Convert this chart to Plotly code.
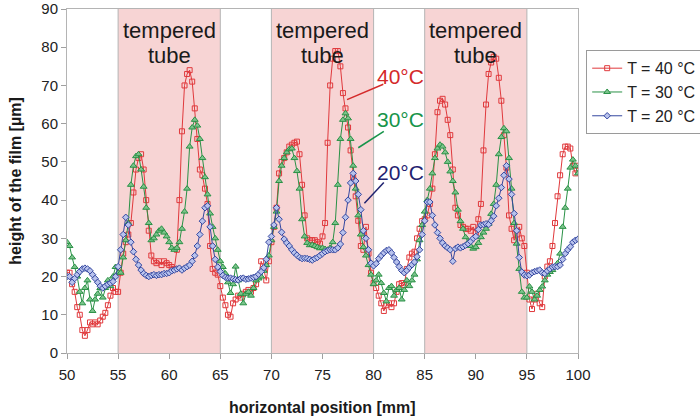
import plotly.graph_objects as go

# sampled horizontal positions [mm] (0.25 mm step, 50 .. 100)
x_start = 50.0
x_step = 0.25

film_40 = [
    21, 21, 18, 16, 12, 10, 6, 4.5, 6, 8, 7.5, 8, 7.5, 8.5, 9.5, 10.5, 12.5, 15, 17, 16,
    16, 21, 26, 29, 31, 34, 42, 48, 51, 52, 48, 40, 32, 25.5, 24, 23.5, 24, 23, 24, 23.5,
    23, 22.5, 22, 27, 40, 58, 70, 73, 74, 71, 64, 56, 48, 46.5, 43, 39, 28, 22, 21, 20.5,
    17.5, 14.5, 12.5, 10, 9.5, 13, 14, 15, 14.5, 15.5, 16, 16.5, 16, 17, 18, 20, 24, 22, 19, 24,
    29, 33, 38, 47, 50, 51, 52.5, 54, 54.5, 55, 55.3, 52, 44, 36, 30, 29.5, 29.5, 29.5, 29, 28.6,
    30.5, 34, 55, 70, 77, 79, 79, 75, 68, 64, 59, 53, 46, 41, 34.6, 28, 27, 33, 26, 21,
    18.3, 17, 15, 13, 11, 12.5, 13, 12, 13, 16, 18, 18.3, 17.8, 22, 25, 26, 26.5, 30, 32.5, 34.5,
    35, 36, 39, 43, 52, 63, 66, 66.5, 65, 61, 57, 48, 38, 36, 33.5, 33, 32.5, 32.5, 32, 33,
    31.5, 35, 39, 53, 65, 73, 76, 77.5, 77, 72, 66, 57, 48.5, 36, 32.5, 29.5, 31, 33, 30, 28,
    21, 14, 11.5, 14, 15.5, 13, 12, 20, 22.6, 24, 28, 34, 41, 46.5, 52, 54, 54, 53.5, 49, 47,
    49,
]

film_30 = [
    29, 28, 25, 22.5, 20, 16, 13, 17, 19, 14, 11, 14, 15.5, 17, 14.5, 17, 19, 17.5, 20, 22.5,
    21, 21, 25, 29.5, 34, 44, 49, 51.5, 52, 48, 43.5, 38, 34, 29.5, 30, 31, 32, 32.5, 31.5, 30.5,
    29, 27.5, 27, 27.5, 29, 32.5, 37, 43, 54, 59, 61, 59.5, 56, 51, 46, 41.5, 36.5, 33, 30, 27,
    24, 22.5, 20.8, 18.5, 15.7, 18, 22.6, 19, 15.5, 13, 15.5, 16, 15, 17, 19, 19.5, 20, 21.5, 23, 25.5,
    29.5, 33, 37, 45, 49, 51, 52.5, 53.3, 53.5, 51, 47.6, 43, 35, 30.5, 28.8, 28.2, 28.3, 28, 27.7, 27.4,
    27.5, 27.2, 27, 27.5, 29, 34, 44, 56, 61, 62.7, 61.4, 56, 49, 43, 36, 31, 27.7, 25.5, 23, 20.5,
    18, 19, 20.5, 18.3, 15.7, 13.5, 17, 17.5, 15, 16.5, 17, 14, 16.5, 19, 17.5, 19, 20.5, 24.5, 29.5, 33.5,
    37, 40, 43, 47, 51, 53.5, 54.5, 54, 52.5, 50, 47.5, 45, 42, 37.5, 34.5, 32.5, 30.3, 29, 28, 27.3,
    27.7, 28.8, 30.3, 31.5, 32.5, 33.8, 36.4, 39, 44, 52, 56.5, 58.8, 58, 51, 43, 34, 28.6, 22, 16, 14.5,
    14.5, 17.4, 16, 14, 15, 16.5, 17.4, 19, 20.5, 21.2, 21.7, 22.5, 23.5, 26, 33, 38, 43, 48.5, 50.6, 49,
    47,
]

film_20 = [
    20, 20, 18.5, 19.5, 20.5, 21.3, 22, 22.2, 22, 21.5, 20.5, 19.5, 18.5, 17.5, 17, 17.5, 18, 18.3, 18.7, 20,
    22.6, 27, 31, 35.5, 33.5, 29, 26.5, 24.5, 23, 21.7, 20.8, 20.3, 20, 20.3, 20.5, 20.3, 20.5, 20.5, 20.8, 20.8,
    21, 21.5, 21.7, 22, 22.2, 21.7, 22.2, 22.6, 23, 24, 25.5, 28, 31, 34.5, 38, 38.5, 33, 28, 24.5, 22.5,
    21.3, 20.3, 19.8, 19.6, 19.6, 19.4, 19.2, 19.1, 19.5, 19.6, 19.3, 19.4, 19.6, 19.8, 20, 20.6, 21.3, 22.3, 24.5, 29,
    30.5, 33.5, 38, 35, 31.6, 29.8, 28.8, 28, 27, 26.2, 25.6, 25, 24.7, 24.8, 24.7, 24.5, 24.3, 24.7, 25, 25.5,
    26, 26.5, 26.8, 27, 27, 27, 27.5, 28.5, 31.5, 35.5, 40, 44.5, 47, 45, 41.5, 37.5, 32, 30, 27, 23.5,
    22.8, 23.4, 24.7, 25.5, 26.2, 26.8, 27, 26.2, 25, 23.8, 22.6, 21.6, 21, 21.6, 22.4, 23.1, 23.8, 25.2, 27, 31,
    34.6, 39.5, 39.5, 36, 33.5, 31.5, 30, 28.8, 28, 27.5, 27, 24, 27.3, 27.7, 27.5, 27.8, 28.2, 28.6, 29.2, 30,
    30.5, 32.3, 33.5, 33.6, 33.8, 33.6, 34.6, 35.8, 38.5, 40.5, 43.3, 46.5, 49, 45.5, 41.5, 36.5, 32, 25, 21.2, 20.4,
    20.2, 20.4, 21, 21.3, 21.5, 21.7, 21, 20.8, 21.5, 22, 22.5, 22.6, 22.6, 23, 24.5, 26, 27, 27.8, 29, 29.5,
    29.8,
]

series_names = ["T = 40 °C", "T = 30 °C", "T = 20 °C"]
tempered_zones = [(55, 65), (70, 80), (85, 95)]
x_ticks = [50, 55, 60, 65, 70, 75, 80, 85, 90, 95, 100]
y_ticks = [0, 10, 20, 30, 40, 50, 60, 70, 80, 90]

positions = [x_start + x_step * i for i in range(len(film_40))]

FONT = "Liberation Sans, Arial, sans-serif"
fig = go.Figure()

styles = [
    dict(color="#e0393c", symbol="square-open", size=5, fill=None),
    dict(color="#2a9146", symbol="triangle-up", size=6, fill="#7cc48c"),
    dict(color="#3447a0", symbol="diamond", size=5, fill="#b8c2ec"),
]
for name, vals, st in zip(series_names, [film_40, film_30, film_20], styles):
    marker = dict(symbol=st["symbol"], size=st["size"], color=st["fill"] or st["color"],
                  line=dict(color=st["color"], width=1))
    fig.add_trace(go.Scatter(x=positions, y=vals, name=name, mode="lines+markers",
                             line=dict(color=st["color"], width=1), marker=marker))

shapes = []
for a, b in tempered_zones:
    shapes.append(dict(type="rect", xref="x", yref="y", x0=a, x1=b, y0=0, y1=90,
                       fillcolor="#f7d4d4", line=dict(width=0), layer="below"))
    for xv in (a, b):
        shapes.append(dict(type="line", xref="x", yref="y", x0=xv, x1=xv, y0=0, y1=90,
                           line=dict(color="#b4b4b4", width=1), layer="below"))

# leader lines for the temperature labels
leaders = [((80.95, 70.3), (77.4, 66.3), "#d42a2a"),
           ((81.0, 58.0), (78.5, 53.7), "#17944a"),
           ((81.0, 44.6), (79.1, 39.2), "#1f2270")]
for (x0, y0), (x1, y1), c in leaders:
    shapes.append(dict(type="line", xref="x", yref="y", x0=x0, y0=y0, x1=x1, y1=y1,
                       line=dict(color=c, width=1.5)))

plot_top, plot_bottom = 9, 353.5


def px_to_paper(py):
    return 1 - (py - plot_top) / (plot_bottom - plot_top)


annotations = []
for a, b in tempered_zones:
    cx = (a + b) / 2
    annotations.append(dict(x=cx, y=px_to_paper(31), xref="x", yref="paper", yanchor="middle",
                            text="tempered", showarrow=False,
                            font=dict(family=FONT, size=22, color="#1a1a1a")))
    annotations.append(dict(x=cx, y=px_to_paper(56), xref="x", yref="paper", yanchor="middle",
                            text="tube", showarrow=False,
                            font=dict(family=FONT, size=22, color="#1a1a1a")))

temp_labels = [("40°C", 72.3, "#d42a2a"), ("30°C", 61.1, "#17944a"), ("20°C", 47.2, "#1f2270")]
for txt, yv, c in temp_labels:
    annotations.append(dict(x=82.6, y=yv, xref="x", yref="y", text=txt, showarrow=False,
                            font=dict(family=FONT, size=21, color=c)))

# x axis title placed as text below the tick labels
annotations.append(dict(x=0.5, y=px_to_paper(408), xref="paper", yref="paper",
                        yanchor="middle", text="<b>horizontal position [mm]</b>",
                        showarrow=False, font=dict(family=FONT, size=16, color="#1a1a1a")))

fig.update_layout(
    width=700, height=420,
    margin=dict(l=67, r=122, t=plot_top, b=420 - plot_bottom, autoexpand=False),
    paper_bgcolor="white", plot_bgcolor="white",
    font=dict(family=FONT, size=15, color="#222222"),
    showlegend=True,
    legend=dict(x=1.016, xanchor="left", y=0.88, yanchor="top",
                bordercolor="#9a9a9a", borderwidth=1, bgcolor="white",
                font=dict(family=FONT, size=16, color="#222222"),
                itemwidth=30, tracegroupgap=0),
    shapes=shapes,
    annotations=annotations,
    xaxis=dict(range=[50, 100], tickvals=x_ticks, ticks="outside", ticklen=5,
               tickcolor="#a0a0a0", showline=True, linecolor="#b4b4b4", mirror=True,
               showgrid=False, zeroline=False, automargin=False,
               ticklabelstandoff=3, ticklabeloverflow="allow"),
    yaxis=dict(range=[0, 90], tickvals=y_ticks, ticks="outside", ticklen=5,
               tickcolor="#a0a0a0", showline=True, linecolor="#b4b4b4", mirror=True,
               showgrid=False, zeroline=False, automargin=False,
               ticklabeloverflow="allow",
               title=dict(text="<b>height of the film [µm]</b>",
                          font=dict(family=FONT, size=16, color="#1a1a1a"))),
)

fig.write_html("out.html", config={"displayModeBar": False},
               post_script="document.body.style.margin='0';")
